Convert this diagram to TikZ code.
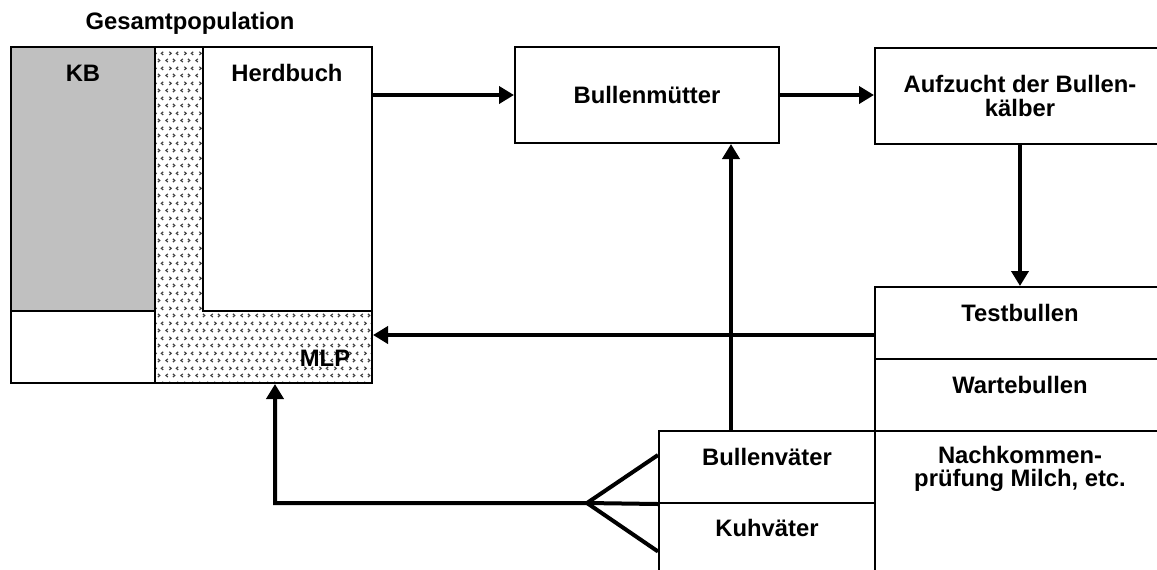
\documentclass[tikz,border=0pt]{standalone}
\usepackage{fontspec}
\setmainfont{Liberation Sans}
\usetikzlibrary{arrows.meta,patterns}
\definecolor{kbgray}{HTML}{C0C0C0}
\definecolor{mlpgray}{HTML}{404040}
\pgfdeclarepatternformonly{mlpdots}{\pgfqpoint{0pt}{0pt}}{\pgfqpoint{7.5pt}{7.3pt}}{\pgfqpoint{7.5pt}{7.3pt}}{%
  \pgfsetlinewidth{0.6pt}%
  \pgfpathmoveto{\pgfqpoint{1.5pt}{1.0pt}}\pgfpathlineto{\pgfqpoint{0.5pt}{1.8pt}}\pgfpathlineto{\pgfqpoint{1.5pt}{2.6pt}}%
  \pgfpathmoveto{\pgfqpoint{4.2pt}{1.0pt}}\pgfpathlineto{\pgfqpoint{5.2pt}{1.8pt}}\pgfpathlineto{\pgfqpoint{4.2pt}{2.6pt}}%
  \pgfpathmoveto{\pgfqpoint{2.3pt}{4.65pt}}\pgfpathlineto{\pgfqpoint{3.3pt}{5.45pt}}\pgfpathlineto{\pgfqpoint{2.3pt}{6.25pt}}%
  \pgfpathmoveto{\pgfqpoint{7pt}{4.65pt}}\pgfpathlineto{\pgfqpoint{6pt}{5.45pt}}\pgfpathlineto{\pgfqpoint{7pt}{6.25pt}}%
  \pgfusepath{stroke}}
\tikzset{
  box/.style={draw, line width=1pt, inner sep=0pt},
  flow/.style={line width=2pt, -{Triangle[length=7.5pt,width=8.5pt]}},
  fork/.style={line width=2pt}
}
\begin{document}
\begin{tikzpicture}[x=0.5pt, y=-0.5pt, every node/.style={font=\bfseries\fontsize{11.9}{11.6}\selectfont}]
    \useasboundingbox (0,0) rectangle (1157,569);
    \clip (0,0) rectangle (1157,569);

    % Gesamtpopulation
    \node (gesamt) at (190,23) {Gesamtpopulation};
    \node[box, pattern=mlpdots, pattern color=mlpgray, minimum width=108.5pt, minimum height=168pt] (mlp) at (263.5,215) {};
    \node[box, fill=white, minimum width=84.5pt, minimum height=132pt] (herd) at (287.5,179) {};
    \node[box, fill=kbgray, minimum width=72pt, minimum height=132pt] (kb) at (83,179) {};
    \node[box, minimum width=72pt, minimum height=36pt] (kbrest) at (83,347) {};
    \node (kbtext) at (83,73) {KB};
    \node (herdtext) at (287,73) {Herdbuch};
    \node (mlptext) at (325,358) {MLP};

    % Kästen
    \node[box, minimum width=132pt, minimum height=48pt] (bm) at (647,95) {Bullenmütter};
    \node[box, minimum width=145pt, minimum height=48pt, align=center] (auf) at (1020,96) {Aufzucht der Bullen-\\kälber};
    \node[box, minimum width=145pt, minimum height=36pt] (test) at (1020,323) {};
    \node[box, minimum width=145pt, minimum height=36pt] (warte) at (1020,395) {};
    \node[box, minimum width=145pt, minimum height=84.5pt] (nach) at (1020,515.5) {};
    \node (testtext) at (1020,313) {Testbullen};
    \node (wartetext) at (1020,385) {Wartebullen};
    \node[align=center] (nachtext) at (1020,469) {Nachkommen-\\prüfung Milch, etc.};
    \node[box, minimum width=108pt, minimum height=36pt] (bv) at (767,467) {};
    \node[box, minimum width=108pt, minimum height=48.5pt] (kv) at (767,551.5) {};
    \node (bvtext) at (767,457) {Bullenväter};
    \node (kvtext) at (767,528) {Kuhväter};

    % Pfeile
    \draw[flow] (herd.east |- bm.west) -- (bm.west);
    \draw[flow] (bm.east) -- (auf.west |- bm.east);
    \draw[flow] (auf.south) -- (test.north);
    \draw[flow] ([yshift=-6pt]test.west) -- ([yshift=-6pt]test.west -| mlp.east);
    \draw[flow] ([xshift=-18pt]bv.north) -- ([xshift=-18pt]bv.north |- bm.south);
    \coordinate (gabel) at (587,503);
    \coordinate (knick) at (275,503);
    \draw[fork] ([yshift=6pt]bv.west) -- (gabel) -- (kv.west);
    \draw[flow] (bv.south west) -- (gabel) -- (knick) -- (knick |- mlp.south);
  \end{tikzpicture}
\end{document}
